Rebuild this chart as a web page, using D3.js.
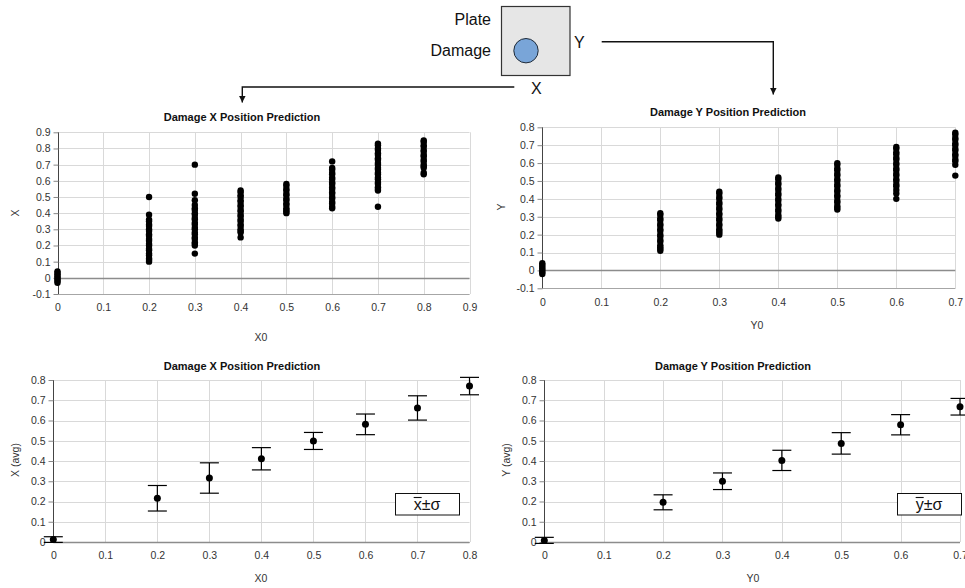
<!DOCTYPE html>
<html>
<head>
<meta charset="utf-8">
<script src="https://cdn.jsdelivr.net/npm/d3@7"></script>
<style>
  body { margin: 0; background: #fff; }
  svg { display: block; font-family: "Liberation Sans", Arial, sans-serif; }
</style>
</head>
<body>
<div id="chart"></div>
<script>
// ---- data ----
const xTicksX = [0, 0.1, 0.2, 0.3, 0.4, 0.5, 0.6, 0.7, 0.8, 0.9];
const xTicksY = [0, 0.1, 0.2, 0.3, 0.4, 0.5, 0.6, 0.7];
const xTicksAvgX = [0, 0.1, 0.2, 0.3, 0.4, 0.5, 0.6, 0.7, 0.8];
const yTicksTopX = [-0.1, 0, 0.1, 0.2, 0.3, 0.4, 0.5, 0.6, 0.7, 0.8, 0.9];
const yTicksTopY = [-0.1, 0, 0.1, 0.2, 0.3, 0.4, 0.5, 0.6, 0.7, 0.8];
const yTicksAvg = [0, 0.1, 0.2, 0.3, 0.4, 0.5, 0.6, 0.7, 0.8];

// predicted X for each true X0
const predX = [
  { x0: 0,   vals: [-0.03, -0.02, -0.01, 0, 0.01, 0.02, 0.03, 0.04] },
  { x0: 0.2, vals: [0.50, 0.39, 0.36, 0.35, 0.33, 0.32, 0.30, 0.29, 0.27, 0.26, 0.24, 0.23, 0.21, 0.20, 0.18, 0.17, 0.15, 0.14, 0.12, 0.11, 0.10] },
  { x0: 0.3, vals: [0.70, 0.52, 0.48, 0.45, 0.43, 0.42, 0.40, 0.39, 0.37, 0.36, 0.34, 0.33, 0.31, 0.30, 0.28, 0.27, 0.25, 0.24, 0.22, 0.21, 0.20, 0.15] },
  { x0: 0.4, vals: [0.54, 0.53, 0.51, 0.50, 0.48, 0.47, 0.45, 0.44, 0.42, 0.41, 0.39, 0.38, 0.36, 0.35, 0.33, 0.32, 0.30, 0.29, 0.28, 0.25] },
  { x0: 0.5, vals: [0.58, 0.57, 0.55, 0.54, 0.52, 0.51, 0.49, 0.48, 0.46, 0.45, 0.43, 0.42, 0.41, 0.40] },
  { x0: 0.6, vals: [0.72, 0.68, 0.67, 0.65, 0.64, 0.62, 0.61, 0.59, 0.58, 0.56, 0.55, 0.53, 0.52, 0.50, 0.49, 0.47, 0.46, 0.44, 0.43] },
  { x0: 0.7, vals: [0.83, 0.82, 0.80, 0.79, 0.77, 0.76, 0.74, 0.73, 0.71, 0.70, 0.68, 0.67, 0.65, 0.64, 0.62, 0.61, 0.59, 0.58, 0.56, 0.55, 0.54, 0.44] },
  { x0: 0.8, vals: [0.85, 0.84, 0.82, 0.81, 0.79, 0.78, 0.76, 0.75, 0.73, 0.72, 0.70, 0.69, 0.68, 0.65, 0.64] }
];

// predicted Y for each true Y0
const predY = [
  { x0: 0,   vals: [-0.02, -0.01, 0, 0.01, 0.02, 0.03, 0.04] },
  { x0: 0.2, vals: [0.32, 0.31, 0.29, 0.28, 0.26, 0.25, 0.23, 0.22, 0.20, 0.19, 0.17, 0.16, 0.14, 0.13, 0.12, 0.11] },
  { x0: 0.3, vals: [0.44, 0.43, 0.41, 0.40, 0.38, 0.37, 0.35, 0.34, 0.32, 0.31, 0.29, 0.28, 0.26, 0.25, 0.23, 0.22, 0.21, 0.20] },
  { x0: 0.4, vals: [0.52, 0.51, 0.49, 0.48, 0.46, 0.45, 0.43, 0.42, 0.40, 0.39, 0.37, 0.36, 0.34, 0.33, 0.31, 0.30, 0.29] },
  { x0: 0.5, vals: [0.60, 0.59, 0.57, 0.56, 0.54, 0.53, 0.51, 0.50, 0.48, 0.47, 0.45, 0.44, 0.42, 0.41, 0.39, 0.38, 0.36, 0.35, 0.34] },
  { x0: 0.6, vals: [0.69, 0.68, 0.66, 0.65, 0.63, 0.62, 0.60, 0.59, 0.57, 0.56, 0.54, 0.53, 0.51, 0.50, 0.48, 0.47, 0.45, 0.43, 0.40] },
  { x0: 0.7, vals: [0.77, 0.76, 0.74, 0.73, 0.71, 0.70, 0.68, 0.67, 0.65, 0.64, 0.62, 0.61, 0.59, 0.53] }
];

// averages and standard deviations
const avgX0 = [0, 0.2, 0.3, 0.4, 0.5, 0.6, 0.7, 0.8];
const meanX = [0.012, 0.216, 0.316, 0.411, 0.499, 0.581, 0.662, 0.770];
const sdX = [0.014, 0.063, 0.075, 0.055, 0.042, 0.051, 0.060, 0.043];

const avgY0 = [0, 0.2, 0.3, 0.4, 0.5, 0.6, 0.7];
const meanY = [0.008, 0.196, 0.300, 0.403, 0.487, 0.579, 0.668];
const sdY = [0.015, 0.037, 0.041, 0.050, 0.053, 0.050, 0.041];

const width = 965, height = 588;
const fmt = (d) => String(Math.round(d * 10) / 10);

const svg = d3.select("#chart").append("svg")
  .attr("width", width)
  .attr("height", height);

// ---- plate sketch at the top ----
const defs = svg.append("defs");
defs.append("marker")
  .attr("id", "arrow")
  .attr("viewBox", "0 0 10 10")
  .attr("refX", 10).attr("refY", 5)
  .attr("markerWidth", 7).attr("markerHeight", 7)
  .attr("markerUnits", "userSpaceOnUse")
  .attr("orient", "auto")
  .append("path").attr("d", "M0,0 L10,5 L0,10 z").attr("fill", "#111");

const sketch = svg.append("g");
sketch.append("rect")
  .attr("x", 501.5).attr("y", 6.5).attr("width", 68.5).attr("height", 69)
  .attr("fill", "#e6e6e6").attr("stroke", "#333").attr("stroke-width", 1.2);
sketch.append("circle")
  .attr("cx", 526).attr("cy", 50.7).attr("r", 12.2)
  .attr("fill", "#79a5d8").attr("stroke", "#1e2a38").attr("stroke-width", 1);
sketch.append("text").attr("x", 491).attr("y", 24.5).attr("text-anchor", "end")
  .attr("font-size", 16).attr("fill", "#111").text("Plate");
sketch.append("text").attr("x", 491).attr("y", 56).attr("text-anchor", "end")
  .attr("font-size", 16).attr("fill", "#111").text("Damage");
sketch.append("text").attr("x", 574).attr("y", 47.5).attr("font-size", 16).attr("fill", "#111").text("Y");
sketch.append("text").attr("x", 531).attr("y", 93.5).attr("font-size", 16).attr("fill", "#111").text("X");
sketch.append("path")
  .attr("d", "M514.3,87 H242.3 V102.5")
  .attr("fill", "none").attr("stroke", "#111").attr("stroke-width", 1.4)
  .attr("marker-end", "url(#arrow)");
sketch.append("path")
  .attr("d", "M601.7,41.7 H773.3 V94.5")
  .attr("fill", "none").attr("stroke", "#111").attr("stroke-width", 1.4)
  .attr("marker-end", "url(#arrow)");

// ---- one panel ----
function drawPanel(cfg) {
  const x = d3.scaleLinear().domain(cfg.xDomain).range(cfg.xRange);
  const y = d3.scaleLinear().domain(cfg.yDomain).range(cfg.yRange);
  const g = svg.append("g");
  const top = cfg.yRange[1], bottom = cfg.yRange[0];
  const left = cfg.xRange[0], right = cfg.xRange[1];
  const px = (v) => Math.round(v) + 0.5;

  // gridlines
  g.append("g").selectAll("line").data(cfg.xTicks).join("line")
    .attr("x1", (d) => px(x(d))).attr("x2", (d) => px(x(d)))
    .attr("y1", top).attr("y2", bottom)
    .attr("stroke", "#d9d9d9");
  g.append("g").selectAll("line").data(cfg.yTicks).join("line")
    .attr("x1", left).attr("x2", right)
    .attr("y1", (d) => px(y(d))).attr("y2", (d) => px(y(d)))
    .attr("stroke", "#d9d9d9");

  // bottom border and zero line
  g.append("line")
    .attr("x1", left).attr("x2", right)
    .attr("y1", px(bottom)).attr("y2", px(bottom))
    .attr("stroke", "#a6a6a6");
  g.append("line")
    .attr("x1", left).attr("x2", right)
    .attr("y1", px(y(0))).attr("y2", px(y(0)))
    .attr("stroke", "#8c8c8c").attr("stroke-width", 1.3);

  // y axis
  const yAxis = g.append("g")
    .attr("transform", `translate(${px(left)},0)`)
    .call(d3.axisLeft(y).tickValues(cfg.yTicks).tickFormat(fmt).tickSize(5).tickPadding(3));
  yAxis.select(".domain").attr("stroke", "#444").attr("d", `M0,${top}V${bottom}`);
  yAxis.selectAll(".tick line").attr("stroke", "#888");
  yAxis.selectAll("text").attr("font-size", 10.5).attr("fill", "#333")
    .attr("font-family", "'Liberation Sans', Arial, sans-serif");

  // x tick labels under the plot
  const xAxis = g.append("g")
    .attr("transform", `translate(0,${bottom})`)
    .call(d3.axisBottom(x).tickValues(cfg.xTicks).tickFormat(fmt).tickSize(0).tickPadding(10));
  xAxis.select(".domain").remove();
  xAxis.selectAll("text").attr("font-size", 10.5).attr("fill", "#333")
    .attr("font-family", "'Liberation Sans', Arial, sans-serif");

  // titles
  g.append("text")
    .attr("x", cfg.titleX).attr("y", cfg.titleY)
    .attr("text-anchor", "middle").attr("font-size", 11).attr("font-weight", "bold")
    .attr("fill", "#111").text(cfg.title);
  g.append("text")
    .attr("x", cfg.xLabelX).attr("y", cfg.xLabelY)
    .attr("text-anchor", "middle").attr("font-size", 10.5).attr("fill", "#333")
    .text(cfg.xLabel);
  g.append("text")
    .attr("transform", `translate(${cfg.yLabelX},${cfg.yLabelY}) rotate(-90)`)
    .attr("text-anchor", "middle").attr("font-size", 10.5).attr("fill", "#333")
    .text(cfg.yLabel);

  return { g, x, y };
}

function drawScatter(panel, columns) {
  const pts = columns.flatMap((c) => c.vals.map((v) => ({ x0: c.x0, v })));
  panel.g.append("g").selectAll("circle").data(pts).join("circle")
    .attr("cx", (d) => panel.x(d.x0))
    .attr("cy", (d) => panel.y(d.v))
    .attr("r", 3.2)
    .attr("fill", "#000");
}

function drawAverages(panel, xs, means, sds, legendBox, letter) {
  const rows = xs.map((x0, i) => ({ x0, m: means[i], s: sds[i] }));
  const eg = panel.g.append("g").attr("stroke", "#000").attr("stroke-width", 1.2);
  const cap = 9.5;
  eg.selectAll(".bar").data(rows).join("line")
    .attr("x1", (d) => panel.x(d.x0)).attr("x2", (d) => panel.x(d.x0))
    .attr("y1", (d) => panel.y(d.m - d.s)).attr("y2", (d) => panel.y(d.m + d.s));
  eg.selectAll(".capTop").data(rows).join("line")
    .attr("x1", (d) => panel.x(d.x0) - cap).attr("x2", (d) => panel.x(d.x0) + cap)
    .attr("y1", (d) => panel.y(d.m + d.s)).attr("y2", (d) => panel.y(d.m + d.s));
  eg.selectAll(".capBot").data(rows).join("line")
    .attr("x1", (d) => panel.x(d.x0) - cap).attr("x2", (d) => panel.x(d.x0) + cap)
    .attr("y1", (d) => panel.y(d.m - d.s)).attr("y2", (d) => panel.y(d.m - d.s));
  panel.g.append("g").selectAll("circle").data(rows).join("circle")
    .attr("cx", (d) => panel.x(d.x0))
    .attr("cy", (d) => panel.y(d.m))
    .attr("r", 3.5)
    .attr("fill", "#000");

  // legend box: mean (with bar) ± sigma
  const lb = panel.g.append("g");
  lb.append("rect")
    .attr("x", legendBox.x + 0.5).attr("y", legendBox.y + 0.5)
    .attr("width", 64).attr("height", 21.5)
    .attr("fill", "#fff").attr("stroke", "#111").attr("stroke-width", 1);
  const baseY = legendBox.y + 17;
  const t = lb.append("text")
    .attr("x", legendBox.x + 32).attr("y", baseY)
    .attr("text-anchor", "middle").attr("font-size", 16).attr("fill", "#111")
    .text(letter + "±σ");
  const node = t.node();
  const s = node.getStartPositionOfChar(0).x;
  const e = node.getEndPositionOfChar(0).x;
  lb.append("line")
    .attr("x1", s).attr("x2", e)
    .attr("y1", baseY - 12.5).attr("y2", baseY - 12.5)
    .attr("stroke", "#111").attr("stroke-width", 1.1);
}

// top left: X prediction scatter
const tl = drawPanel({
  xDomain: [0, 0.9], xRange: [57.5, 469.5],
  yDomain: [-0.1, 0.9], yRange: [294, 132.3],
  xTicks: xTicksX, yTicks: yTicksTopX,
  title: "Damage X Position Prediction", titleX: 242, titleY: 121,
  xLabel: "X0", xLabelX: 261, xLabelY: 341,
  yLabel: "X", yLabelX: 19, yLabelY: 213
});
drawScatter(tl, predX);

// top right: Y prediction scatter
const tr = drawPanel({
  xDomain: [0, 0.7], xRange: [542.3, 955.3],
  yDomain: [-0.1, 0.8], yRange: [288.3, 127.3],
  xTicks: xTicksY, yTicks: yTicksTopY,
  title: "Damage Y Position Prediction", titleX: 728, titleY: 115.5,
  xLabel: "Y0", xLabelX: 757, xLabelY: 329,
  yLabel: "Y", yLabelX: 505, yLabelY: 207
});
drawScatter(tr, predY);

// bottom left: X averages
const bl = drawPanel({
  xDomain: [0, 0.8], xRange: [53.3, 469.5],
  yDomain: [0, 0.8], yRange: [542, 380],
  xTicks: xTicksAvgX, yTicks: yTicksAvg,
  title: "Damage X Position Prediction", titleX: 242, titleY: 369.5,
  xLabel: "X0", xLabelX: 261, xLabelY: 581.5,
  yLabel: "X (avg)", yLabelX: 18.5, yLabelY: 460
});
drawAverages(bl, avgX0, meanX, sdX, { x: 395, y: 493 }, "x");

// bottom right: Y averages
const br = drawPanel({
  xDomain: [0, 0.7], xRange: [544.3, 960],
  yDomain: [0, 0.8], yRange: [542, 380],
  xTicks: xTicksY, yTicks: yTicksAvg,
  title: "Damage Y Position Prediction", titleX: 733, titleY: 369.5,
  xLabel: "Y0", xLabelX: 753, xLabelY: 581.5,
  yLabel: "Y (avg)", yLabelX: 509.5, yLabelY: 460
});
drawAverages(br, avgY0, meanY, sdY, { x: 897, y: 493 }, "y");
</script>
</body>
</html>
